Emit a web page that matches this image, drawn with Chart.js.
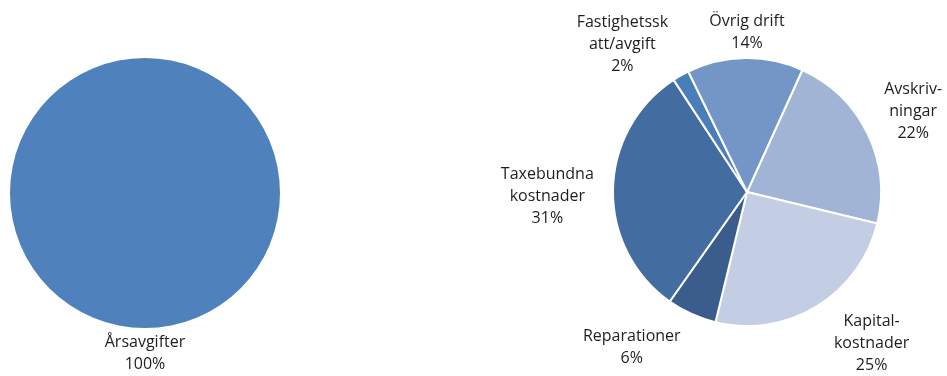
<!DOCTYPE html>
<html>
<head>
<meta charset="utf-8">
<script src="https://cdn.jsdelivr.net/npm/chart.js@4.4.0/dist/chart.umd.min.js"></script>
<style>
body{margin:0;background:#fff;width:947px;height:376px;position:relative;overflow:hidden}
#left{position:absolute;left:0;top:0}
#right{position:absolute;left:470px;top:0}
</style>
</head>
<body>
<canvas id="left" width="290" height="376"></canvas>
<canvas id="right" width="477" height="376"></canvas>
<script>
// data
var leftLabels = [['Årsavgifter']];
var leftValues = [100];
var leftColors = ['#4F81BD'];

var rightLabels = [['Avskriv-', 'ningar'], ['Kapital-', 'kostnader'], ['Reparationer'], ['Taxebundna', 'kostnader'], ['Fastighetssk', 'att/avgift'], ['Övrig drift']];
var rightValues = [22, 25, 6, 31, 2, 14];
var rightColors = ['#A2B4D5', '#C3CEE4', '#3A5D8B', '#436DA0', '#4A7EBB', '#7396C6'];

// label text placement, in units of the pie radius from its centre
var leftOffsets = [[0, 1.19]];
var rightOffsets = [[1.24, -0.6], [0.93, 1.13], [-0.86, 1.16], [-1.49, 0.03], [-0.93, -1.1], [0, -1.19]];

var pieLabels = {
    id: 'pieLabels',
    afterDatasetsDraw: function(chart, args, opts) {
        var ctx = chart.ctx;
        var meta = chart.getDatasetMeta(0);
        var data = chart.data.datasets[0].data;
        var total = data.reduce(function(a, b) { return a + b; }, 0);
        ctx.save();
        ctx.font = '16px "Open Sans"';
        ctx.fillStyle = '#1e1e1e';
        ctx.textAlign = 'center';
        ctx.textBaseline = 'middle';
        meta.data.forEach(function(arc, i) {
            var lines = chart.data.labels[i].concat([Math.round(data[i] / total * 100) + '%']);
            var off = opts.offsets[i];
            var x = arc.x + off[0] * arc.outerRadius;
            var y = arc.y + off[1] * arc.outerRadius - (lines.length - 1) * opts.lineHeight / 2;
            lines.forEach(function(l, k) {
                ctx.fillText(l, x, y + k * opts.lineHeight);
            });
        });
        ctx.restore();
    }
};

function makePie(id, labels, values, colors, offsets, padding, rotation, border) {
    return new Chart(document.getElementById(id).getContext('2d'), {
        type: 'pie',
        data: {
            labels: labels,
            datasets: [{
                data: values,
                backgroundColor: colors,
                borderColor: '#ffffff',
                borderWidth: border
            }]
        },
        options: {
            responsive: false,
            animation: false,
            rotation: rotation,
            layout: { padding: padding },
            plugins: {
                legend: { display: false },
                tooltip: { enabled: false },
                pieLabels: { offsets: offsets, lineHeight: 22 }
            }
        },
        plugins: [pieLabels]
    });
}

var leftChart = makePie('left', leftLabels, leftValues, leftColors, leftOffsets,
    { left: 10, right: 10, top: 58, bottom: 48 }, 0, 0);
var rightChart = makePie('right', rightLabels, rightValues, rightColors, rightOffsets,
    { left: 142, right: 65, top: 57, bottom: 49 }, 24.4, 2);
</script>
</body>
</html>
